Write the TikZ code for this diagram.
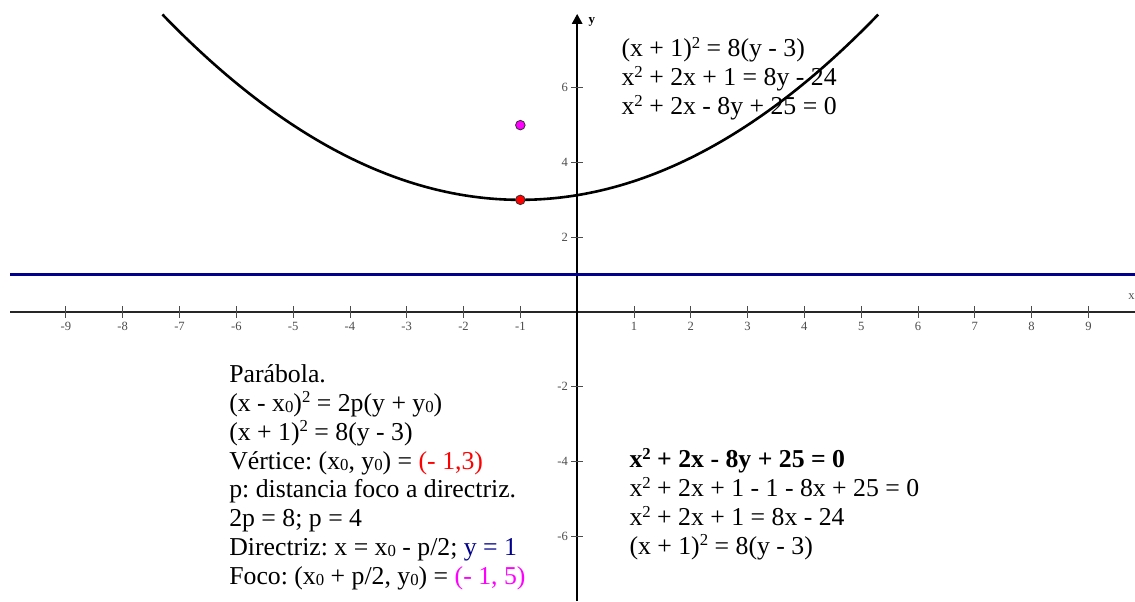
\documentclass[tikz,border=0pt]{standalone}
\usepackage{fontspec}
\setmainfont{Liberation Serif}
\usetikzlibrary{arrows.meta}
\definecolor{dirblue}{RGB}{0,0,140}
\definecolor{focomag}{RGB}{255,0,255}
\newcommand{\subc}[1]{\raisebox{-0.6pt}{\fontsize{8.4}{8.4}\selectfont #1}}
\newcommand{\supc}[1]{\raisebox{4.2pt}{\fontsize{8.4}{8.4}\selectfont #1}}
\frenchspacing

\begin{document}
\begin{tikzpicture}[x=1cm, y=0.6576cm]
\useasboundingbox (-10.16,-7.74) rectangle (9.82,8.35);
\tikzstyle{txt}=[anchor=north west, inner sep=0pt, align=left,
  font=\fontsize{12.9}{14.45}\selectfont]
\tikzstyle{tk}=[font=\fontsize{6.3}{7}\selectfont, text=black!70, inner sep=1pt]
\tikzstyle{pt}=[circle, draw=black!80, thin, inner sep=0pt, minimum size=4.8pt]
% axes
\draw[line width=1.1pt, black!85] (-9.98,0) -- (9.82,0);
\draw[line width=1.3pt, -{Triangle[length=5pt,width=5pt]}] (0,-7.74) -- (0,7.98);
\node[font=\fontsize{6.5}{7}\selectfont\bfseries] (ylab) at (0.26,7.76) {y};
\node[tk, anchor=east, inner sep=0pt] (xlab) at (9.82,0.4) {x};
\foreach \i in {-9,...,-1,1,2,...,9} {
  \draw[black!70] (\i,-0.16) -- (\i,0.16);
  \node[tk, below] (tx\i) at (\i,-0.2) {\i};
}
\foreach \j in {-6,-4,-2,2,4,6} {
  \draw[black!70] (-0.1,\j) -- (0.1,\j);
  \node[tk, left] (ty\j) at (-0.12,\j) {\j};
}
% directriz y parabola
\draw[dirblue, line width=1.5pt] (-9.98,1) -- (9.82,1);
\draw[line width=1.3pt, domain=-7.3:5.3, samples=80, smooth]
  plot (\x, {(\x+1)^2/8+3});
\node[pt, fill=focomag] (foco) at (-1,5) {};
\node[pt, fill=red] (vert) at (-1,3) {};
% textos
\node[txt] (arriba) at (0.775,7.36) {(x + 1)\supc{2} = 8(y - 3)\\
  x\supc{2} + 2x + 1 = 8y - 24\\
  x\supc{2} + 2x - 8y + 25 = 0};
\node[txt] (teoria) at (-6.13,-1.40) {Parábola.\\
  (x - x\subc{0})\supc{2} = 2p(y + y\subc{0})\\
  (x + 1)\supc{2} = 8(y - 3)\\
  Vértice: (x\subc{0}, y\subc{0}) = \textcolor{red}{(- 1,3)}\\
  p: distancia foco a directriz.\\
  2p = 8; p = 4\\
  Directriz: x = x\subc{0} - p/2; \textcolor{dirblue}{y = 1}\\
  Foco: (x\subc{0} + p/2, y\subc{0}) = \textcolor{focomag}{(- 1, 5)}};
\node[txt] (pasos) at (0.915,-3.64) {\textbf{x\supc{\bfseries 2} + 2x - 8y + 25 = 0}\\
  x\supc{2} + 2x + 1 - 1 - 8x + 25 = 0\\
  x\supc{2} + 2x + 1 = 8x - 24\\
  (x + 1)\supc{2} = 8(y - 3)};
\end{tikzpicture}
\end{document}
